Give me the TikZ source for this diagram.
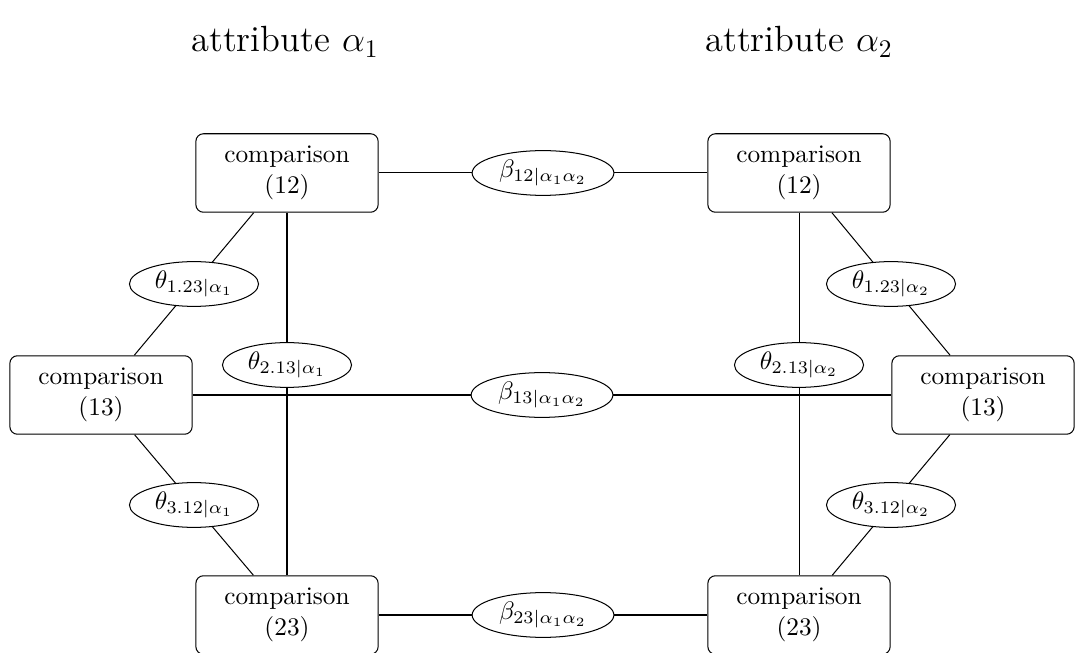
\documentclass[tikz,border=0pt]{standalone}
\usetikzlibrary{shapes.geometric}
\begin{document}
\begin{tikzpicture}[x=0.395pt,y=-0.395pt,
  cbox/.style={draw,rounded corners=3pt,minimum width=72pt,minimum height=31pt,align=center,inner sep=2pt,fill=white},
  bell/.style={draw,ellipse,fill=white,minimum width=56pt,minimum height=15.5pt,inner sep=1pt},
  tell/.style={draw,ellipse,fill=white,minimum width=51pt,minimum height=15.5pt,inner sep=1pt},
  title/.style={font=\Large}]
\useasboundingbox (0,0) rectangle (1075,653);
\node[title] (t1) at (285,42) {attribute $\alpha_1$};
\node[title] (t2) at (799,42) {attribute $\alpha_2$};
\node[cbox] (TL) at (287,173) {comparison\\(12)};
\node[cbox] (TR) at (799,173) {comparison\\(12)};
\node[cbox] (ML) at (101,395) {comparison\\(13)};
\node[cbox] (MR) at (983,395) {comparison\\(13)};
\node[cbox] (BL) at (287,615) {comparison\\(23)};
\node[cbox] (BR) at (799,615) {comparison\\(23)};
\draw (TL) -- node[bell] (b12) {$\beta_{12|\alpha_1\alpha_2}$} (TR);
\draw (ML) -- node[bell] (b13) {$\beta_{13|\alpha_1\alpha_2}$} (MR);
\draw (BL) -- node[bell] (b23) {$\beta_{23|\alpha_1\alpha_2}$} (BR);
\draw (TL) -- node[tell] (l123) {$\theta_{1.23|\alpha_1}$} (ML);
\draw (ML) -- node[tell] (l312) {$\theta_{3.12|\alpha_1}$} (BL);
\draw (TL) -- node[tell,pos=0.42] (l213) {$\theta_{2.13|\alpha_1}$} (BL);
\draw (TR) -- node[tell] (r123) {$\theta_{1.23|\alpha_2}$} (MR);
\draw (MR) -- node[tell] (r312) {$\theta_{3.12|\alpha_2}$} (BR);
\draw (TR) -- node[tell,pos=0.42] (r213) {$\theta_{2.13|\alpha_2}$} (BR);
\end{tikzpicture}
\end{document}
